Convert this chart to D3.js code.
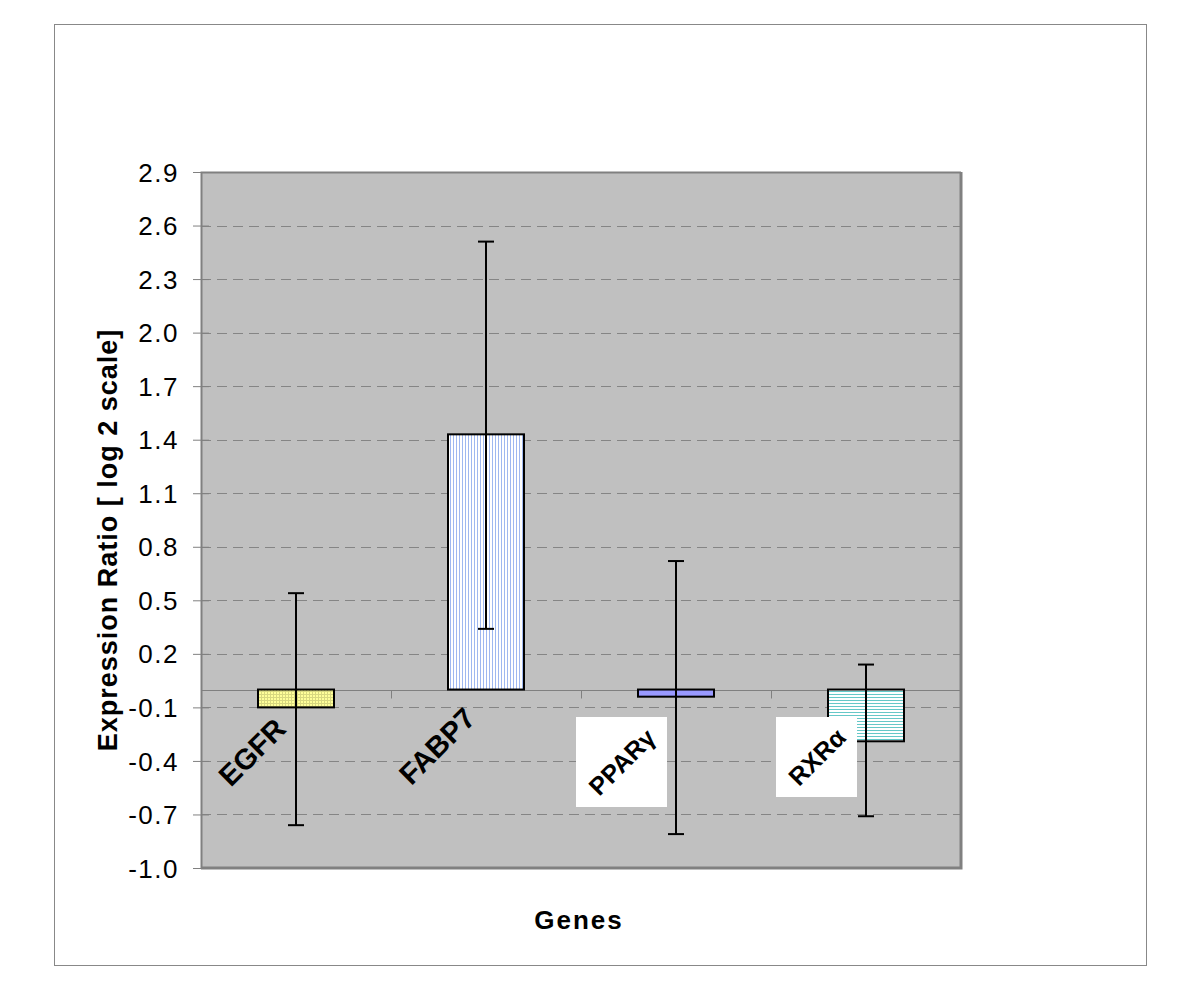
<!DOCTYPE html>
<html>
<head>
<meta charset="utf-8">
<script src="https://cdn.jsdelivr.net/npm/d3@7"></script>
<style>
  body { margin: 0; background: #fff; }
  svg { display: block; font-family: Arial, "Liberation Sans", sans-serif; }
</style>
</head>
<body>
<svg id="chart"></svg>
<script>
const genes = ["EGFR", "FABP7", "PPAR\u03b3", "RXR\u03b1"];
const ratios = [-0.1, 1.43, -0.04, -0.29];
const errHigh = [0.54, 2.51, 0.72, 0.14];
const errLow = [-0.76, 0.34, -0.81, -0.71];
const yTicks = [2.9, 2.6, 2.3, 2.0, 1.7, 1.4, 1.1, 0.8, 0.5, 0.2, -0.1, -0.4, -0.7, -1.0];

const width = 1200, height = 985;
const margin = { top: 172, right: 239, bottom: 117, left: 201 };

const svg = d3.select("#chart").attr("width", width).attr("height", height);

// patterns for the bar fills
const defs = svg.append("defs");
const pGrid = defs.append("pattern").attr("id", "pGrid")
  .attr("width", 3).attr("height", 3).attr("patternUnits", "userSpaceOnUse");
pGrid.append("rect").attr("width", 3).attr("height", 3).attr("fill", "#ffff99");
pGrid.append("path").attr("d", "M0,0.5H3M0.5,0V3").attr("stroke", "#d8d880").attr("stroke-width", 1);

const pVert = defs.append("pattern").attr("id", "pVert")
  .attr("width", 3).attr("height", 3).attr("patternUnits", "userSpaceOnUse");
pVert.append("rect").attr("width", 3).attr("height", 3).attr("fill", "#fff");
pVert.append("path").attr("d", "M0.5,0V3").attr("stroke", "#9fb8f0").attr("stroke-width", 1);

const pHoriz = defs.append("pattern").attr("id", "pHoriz")
  .attr("width", 3).attr("height", 3).attr("patternUnits", "userSpaceOnUse");
pHoriz.append("rect").attr("width", 3).attr("height", 3).attr("fill", "#fff");
pHoriz.append("path").attr("d", "M0,0.5H3").attr("stroke", "#66c8c8").attr("stroke-width", 1);

const fills = ["url(#pGrid)", "url(#pVert)", "#9999ff", "url(#pHoriz)"];

// outer frame
svg.append("rect").attr("x", 54.5).attr("y", 24.5).attr("width", 1092).attr("height", 941)
  .attr("fill", "#fff").attr("stroke", "#888").attr("stroke-width", 1);

const innerW = width - margin.left - margin.right;
const innerH = height - margin.top - margin.bottom;

const x = d3.scaleBand().domain(genes).range([0, innerW]).paddingInner(0.6).paddingOuter(0.3);
const y = d3.scaleLinear().domain([-1.0, 2.9]).range([innerH, 0]);

const g = svg.append("g").attr("transform", `translate(${margin.left},${margin.top})`);

// plot background
g.append("rect").attr("width", innerW).attr("height", innerH).attr("fill", "#c0c0c0");

// dashed gridlines
g.selectAll("line.grid")
  .data(yTicks.filter(d => d !== 2.9 && d !== -1.0))
  .enter().append("line")
  .attr("class", "grid")
  .attr("x1", 0).attr("x2", innerW)
  .attr("y1", d => Math.round(y(d)) + 0.5).attr("y2", d => Math.round(y(d)) + 0.5)
  .attr("stroke", "#858585").attr("stroke-dasharray", "10,6").attr("stroke-width", 1);

// plot border
g.append("path")
  .attr("d", `M0.5,${innerH}V0.5H${innerW}`)
  .attr("fill", "none").attr("stroke", "#808080").attr("stroke-width", 2);
g.append("path")
  .attr("d", `M${innerW},0V${innerH}H0`)
  .attr("fill", "none").attr("stroke", "#808080").attr("stroke-width", 3);

// y axis (plain hyphen for negatives, like the original)
const fmt = d => d3.format(".1f")(d).replace("\u2212", "-");
const yAxis = d3.axisLeft(y).tickValues(yTicks).tickFormat(fmt).tickSize(8).tickPadding(14);
const ya = g.append("g").call(yAxis);
ya.select(".domain").remove();
ya.selectAll(".tick line").attr("stroke", "#808080").attr("x2", 8).attr("x1", -8);
ya.selectAll(".tick text").attr("font-size", 26).attr("font-family", "Arial, 'Liberation Sans', sans-serif")
  .attr("letter-spacing", 1.5)
  .attr("fill", "#000").attr("dy", "0.35em");

// zero line with category ticks
const y0 = Math.round(y(0)) + 0.5;
g.append("line").attr("x1", 0).attr("x2", innerW).attr("y1", y0).attr("y2", y0)
  .attr("stroke", "#808080").attr("stroke-width", 1);
g.selectAll("line.ctick")
  .data(d3.range(1, genes.length))
  .enter().append("line")
  .attr("class", "ctick")
  .attr("x1", i => Math.round(i * innerW / genes.length) + 0.5)
  .attr("x2", i => Math.round(i * innerW / genes.length) + 0.5)
  .attr("y1", y0).attr("y2", y0 + 8)
  .attr("stroke", "#808080");

// bars
g.selectAll("rect.bar")
  .data(genes)
  .enter().append("rect")
  .attr("class", "bar")
  .attr("x", d => x(d))
  .attr("width", x.bandwidth())
  .attr("y", (d, i) => y(Math.max(0, ratios[i])))
  .attr("height", (d, i) => Math.abs(y(ratios[i]) - y(0)))
  .attr("fill", (d, i) => fills[i])
  .attr("stroke", "#000").attr("stroke-width", 2);

// category labels (white boxes on the last two)
const labelPos = [[252, 752], [437, 746], [622, 762], [817, 757]];
const boxes = [null, null, [576, 717, 91, 90], [776, 717, 81, 80]];
boxes.forEach(b => {
  if (!b) return;
  g.append("rect")
    .attr("x", b[0] - margin.left).attr("y", b[1] - margin.top)
    .attr("width", b[2]).attr("height", b[3])
    .attr("fill", "#fff");
});
g.selectAll("text.cat")
  .data(genes)
  .enter().append("text")
  .attr("class", "cat")
  .attr("transform", (d, i) => `translate(${labelPos[i][0] - margin.left},${labelPos[i][1] - margin.top}) rotate(-45)`)
  .attr("text-anchor", "middle")
  .attr("dy", "0.35em")
  .attr("font-size", (d, i) => i >= 2 ? 25 : 29)
  .attr("font-weight", "bold")
  .attr("fill", "#000")
  .text(d => d);

// error bars
const eb = g.selectAll("g.err").data(genes).enter().append("g").attr("class", "err")
  .attr("transform", d => `translate(${Math.round(x(d) + x.bandwidth() / 2)},0)`);
eb.append("line").attr("x1", 0).attr("x2", 0)
  .attr("y1", (d, i) => y(errHigh[i])).attr("y2", (d, i) => y(errLow[i]))
  .attr("stroke", "#000").attr("stroke-width", 2);
eb.append("line").attr("x1", -8).attr("x2", 8)
  .attr("y1", (d, i) => y(errHigh[i])).attr("y2", (d, i) => y(errHigh[i]))
  .attr("stroke", "#000").attr("stroke-width", 2);
eb.append("line").attr("x1", -8).attr("x2", 8)
  .attr("y1", (d, i) => y(errLow[i])).attr("y2", (d, i) => y(errLow[i]))
  .attr("stroke", "#000").attr("stroke-width", 2);

// axis titles
svg.append("text")
  .attr("x", 579).attr("y", 929)
  .attr("text-anchor", "middle")
  .attr("font-size", 26).attr("font-weight", "bold")
  .attr("letter-spacing", 2)
  .text("Genes");

svg.append("text")
  .attr("transform", "translate(117,540) rotate(-90)")
  .attr("text-anchor", "middle")
  .attr("font-size", 27).attr("font-weight", "bold")
  .attr("letter-spacing", 1)
  .text("Expression Ratio [ log 2 scale]");
</script>
</body>
</html>
